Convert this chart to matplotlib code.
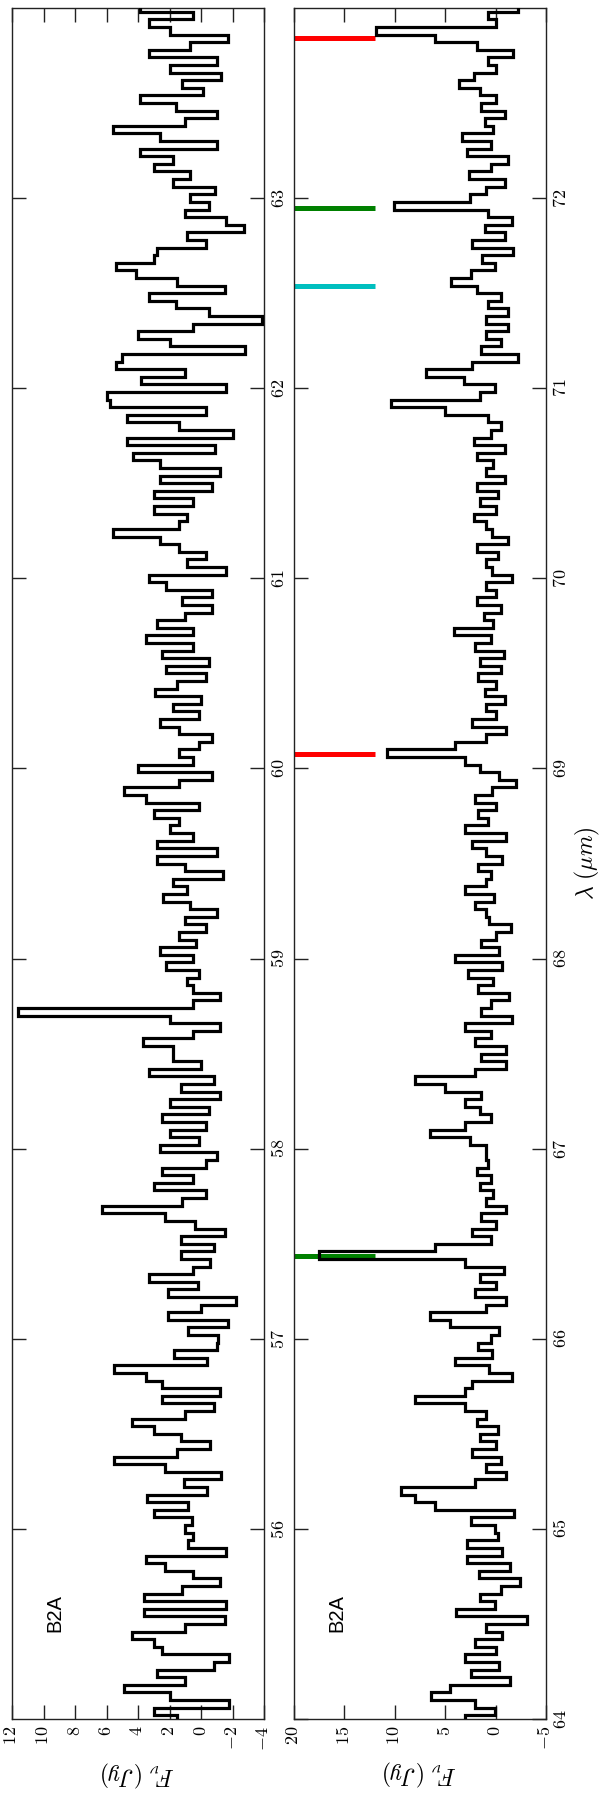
import numpy as np
import matplotlib
matplotlib.use("Agg")
import matplotlib.pyplot as plt

plt.rcParams['mathtext.fontset'] = 'cm'
plt.rcParams['font.family'] = ['Liberation Sans', 'DejaVu Sans']

# spectrum sampled every 0.04 micron, one row per micron
step = 0.04

wl0_a = 55.0
flux_a = [
    1.5, 3.0, -1.8, 2.0, 4.9, 1.0, 2.8, -0.8, -1.8, 2.5, 3.0, 4.4, 1.0, -1.5, 3.6, -1.6, 3.6, 1.2, -1.2, 0.5, 2.3, 3.5, -1.6, 0.8, 0.5,
    1.0, 0.6, 3.0, 0.8, 3.4, -0.4, 1.1, -1.3, 2.3, 5.5, 1.5, -0.6, 1.3, 3.0, 4.4, 1.0, -0.8, 2.5, -1.2, 2.5, 3.5, 5.5, -0.4, 1.7, -1.0,
    -1.1, 0.8, -1.7, 2.1, 0.0, -2.2, 2.1, 0.2, 3.3, 0.5, -0.6, 1.3, -0.8, 1.3, -1.5, 0.4, 2.3, 6.3, 1.2, -0.3, 3.0, 0.5, 2.5, -0.3, -1.0,
    2.6, 0.1, 2.0, -0.3, 2.5, -0.5, 2.0, -1.2, 1.3, -0.8, 3.3, 0.0, 1.8, 1.8, 3.7, 0.5, -1.2, 2.0, 11.6, 0.5, -1.2, 0.5, 0.9, 0.1, 2.2,
    0.5, 2.6, 0.3, 1.4, -0.3, 1.0, -1.0, 0.7, 2.4, 0.9, 1.8, -1.4, 1.0, 2.8, -1.0, 2.8, 0.5, 2.0, 1.4, 3.0, 0.1, 3.5, 4.9, 1.4, -0.7,
    4.0, 0.5, 1.4, 0.1, -0.7, 1.4, 2.6, 0.1, 1.8, 0.0, 2.9, 1.5, -0.3, 2.2, -0.5, 2.5, 0.5, 3.5, 0.5, 2.8, 1.0, -0.7, 1.2, -0.7, 2.2,
    3.3, -1.6, 0.9, -0.3, 1.4, 2.6, 5.6, 1.4, 0.9, 3.0, 0.5, 3.0, -0.7, 2.6, -1.2, 2.6, 4.3, -0.9, 4.7, -2.0, 1.4, 4.7, -0.3, 5.8, 6.0,
    -1.6, 3.8, 1.0, 5.4, 5.0, -2.8, 2.0, 4.0, 0.5, -3.9, -0.5, 1.6, 3.3, -1.5, 1.5, 4.1, 5.4, 3.0, 2.8, -0.3, 0.9, -2.7, -1.6, 1.0, -0.5,
    0.7, -0.9, 1.8, 0.7, 3.0, 1.8, 3.9, -1.0, 2.6, 5.6, 1.0, -1.0, 1.6, 3.9, -0.1, 1.2, -1.3, 2.0, -1.0, 3.3, 0.7, -1.7, 2.0, 3.3, 0.5,
    3.9,
]

wl0_b = 64.0
flux_b = [
    3.0, 0.1, 2.0, 6.4, 4.5, -1.4, 2.4, -0.3, 3.0, 0.0, 2.0, -0.6, 1.0, -3.1, 3.9, 0.1, 1.5, -0.5, -2.4, 1.6, -1.4, 2.8, -0.6, 2.8, -0.2,
    0.1, 2.4, -1.8, 6.0, 8.0, 9.4, 2.0, -1.0, 1.0, -0.5, 2.3, 0.0, 1.5, -0.2, 1.8, 1.0, 3.0, 8.0, 3.0, 2.3, -1.6, 0.7, 4.0, 0.4, 1.7,
    0.5, -0.3, 4.5, 6.5, 1.0, -1.0, 2.0, 0.0, 1.5, -0.8, 3.0, 17.5, 6.0, 0.5, 2.3, 0.0, 1.4, -1.0, 1.0, 0.3, 1.5, 0.5, 1.8, 0.8, 1.0,
    1.0, 2.5, 6.5, 3.0, 0.5, 1.5, 3.0, 1.4, 5.0, 8.0, 2.0, -1.0, 1.4, -1.0, 2.0, 0.5, 3.0, -1.6, 1.4, 0.5, -1.3, 1.7, 0.3, 2.7, -0.6,
    4.0, -0.3, 1.4, 0.0, -1.5, 0.7, 1.0, 2.0, 0.2, 3.0, 1.0, 0.5, 1.7, -0.6, 1.0, 2.3, -1.0, 3.0, 0.8, 1.7, 0.0, 2.0, 0.4, -2.0, -0.3,
    1.5, 3.0, 10.8, 4.0, 1.0, -1.0, 2.3, 0.0, 1.0, -0.9, 1.1, 0.0, 1.7, -0.5, 1.5, -0.8, 2.0, 0.5, 4.1, 0.3, 1.2, -0.5, 1.8, 0.0, 1.0,
    -1.6, 0.4, 1.0, -0.2, 1.8, -1.2, 0.4, 1.0, 2.1, 0.0, 1.5, -0.2, 1.8, -0.9, 1.0, 0.3, 1.8, -0.9, 2.1, 0.5, -0.5, 0.8, 5.0, 10.4, 1.5,
    0.1, 3.1, 6.9, 2.3, -2.2, 1.4, -0.5, 1.0, -1.2, 1.0, -1.2, 0.8, -0.5, 1.8, 4.4, 2.4, 0.1, 1.3, -1.7, 2.3, -0.9, 1.1, -1.6, 0.8, 10.1,
    2.5, 1.0, -0.9, 2.6, 0.5, -1.2, 2.8, 0.5, 3.3, 0.3, 1.1, -0.9, 1.4, 0.0, 1.5, 3.6, 2.1, 0.0, 0.8, -1.7, 1.8, 6.0, 11.9, 0.0, 0.8,
    -2.2,
]

# line identifications (CO red, o/p-H2O green/cyan)
line_wl = [72.843, 69.074, 71.947, 66.438, 71.540]
line_col = ['#ff0000', '#ff0000', '#008000', '#008000', '#00bfbf']
mark_lo, mark_hi = 12, 20

wl_ticks_a = [56, 57, 58, 59, 60, 61, 62, 63]
wl_ticks_b = [64, 65, 66, 67, 68, 69, 70, 71, 72]
f_ticks_a = [12, 10, 8, 6, 4, 2, 0, -2, -4]
f_ticks_b = [20, 15, 10, 5, 0, -5]

fig = plt.figure(figsize=(6, 18), dpi=100)
ax1 = fig.add_axes([12/600, 81/1800, 252/600, 1711/1800])
ax2 = fig.add_axes([294/600, 81/1800, 252/600, 1711/1800])

def panel(ax, wl0, flux, wlim, flim, wt, ft):
    flux = np.array(flux)
    wl = wl0 + step*np.arange(len(flux))
    edges = np.append(wl - step/2, wl[-1] + step/2)
    ax.stairs(flux, edges, orientation='horizontal', baseline=None,
              color='k', lw=2.3, zorder=3)
    ax.set_xlim(flim)
    ax.set_ylim(wlim)
    ax.set_xticks(ft)
    ax.set_xticklabels(['$%d$' % t for t in ft], rotation=90, fontsize=13)
    ax.set_yticks(wt)
    ax.set_yticklabels(['$%d$' % t for t in wt], rotation=90, fontsize=13, va='center')
    ax.tick_params(direction='in', length=10, width=1, color='#222222',
                   top=True, bottom=True, left=True, right=True,
                   labelleft=False, labelright=True, pad=5)
    for s in ax.spines.values():
        s.set_linewidth(1.0)
        s.set_color('#222222')
    ax.set_xlabel(r'$F_\nu\ (Jy)$', rotation=180, fontsize=17, labelpad=6)
    ax.text(0.17, 0.062, 'B2A', rotation=90, fontsize=14.5,
            transform=ax.transAxes, ha='center', va='center')

panel(ax1, wl0_a, flux_a, (55, 64), (12, -4), wl_ticks_a, f_ticks_a)
ax2.hlines(line_wl, mark_lo, mark_hi, colors=line_col, lw=3.6, zorder=2)
panel(ax2, wl0_b, flux_b, (64, 73), (20, -5), wl_ticks_b, f_ticks_b)

ax2.yaxis.set_label_position('right')
ax2.set_ylabel(r'$\lambda\ (\mu m)$', fontsize=17, rotation=90, labelpad=2)

fig.savefig('out.png', dpi=100)
